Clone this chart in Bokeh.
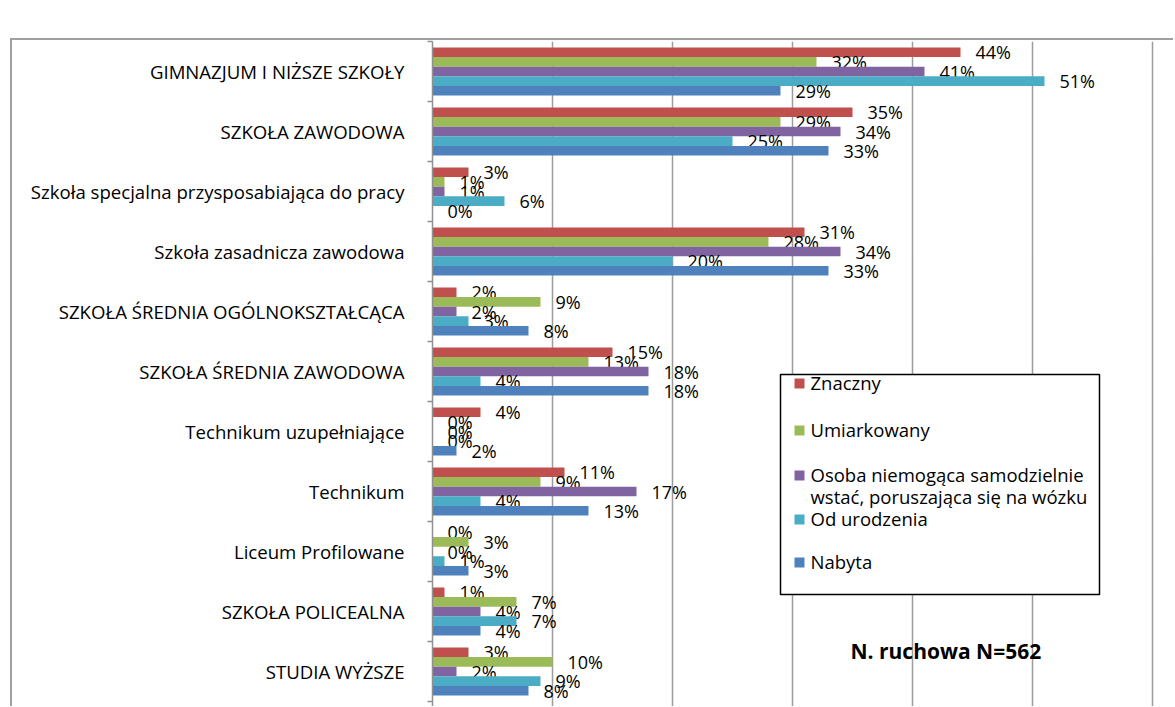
from bokeh.plotting import figure
from bokeh.layouts import column
from bokeh.models import Range1d, FixedTicker, ColumnDataSource
from bokeh.transform import dodge
from bokeh.core.properties import value
from bokeh.embed import file_html
from bokeh.resources import INLINE

# ---------------- data ----------------
categories = [
    "GIMNAZJUM I NIŻSZE SZKOŁY",
    "SZKOŁA ZAWODOWA",
    "Szkoła specjalna przysposabiająca do pracy",
    "Szkoła zasadnicza zawodowa",
    "SZKOŁA ŚREDNIA OGÓLNOKSZTAŁCĄCA",
    "SZKOŁA ŚREDNIA ZAWODOWA",
    "Technikum uzupełniające",
    "Technikum",
    "Liceum Profilowane",
    "SZKOŁA POLICEALNA",
    "STUDIA WYŻSZE",
]
series_names = [
    "Znaczny",
    "Umiarkowany",
    "Osoba niemogąca samodzielnie\nwstać, poruszająca się na wózku",
    "Od urodzenia",
    "Nabyta",
]
znaczny = [44, 35, 3, 31, 2, 15, 4, 11, 0, 1, 3]
umiarkowany = [32, 29, 1, 28, 9, 13, 0, 9, 3, 7, 10]
na_wozku = [41, 34, 1, 34, 2, 18, 0, 17, 0, 4, 2]
od_urodzenia = [51, 25, 6, 20, 3, 4, 0, 4, 1, 7, 9]
nabyta = [29, 33, 0, 33, 8, 18, 2, 13, 3, 4, 8]
x_grid_ticks = [10, 20, 30, 40, 50, 60]
note_text = "N. ruchowa N=562"

series_values = [znaczny, umiarkowany, na_wozku, od_urodzenia, nabyta]
colors = ["#C0504D", "#9BBB59", "#8064A2", "#4BACC6", "#4F81BD"]

# ---------------- geometry ----------------
FX, FY = 12, 40            # page position of the figure canvas
W, H = 1161, 666
LEFT, TOP, RIGHT, BOTTOM = 420, 1, 0, 0
n = len(categories)
frame_w = W - LEFT - RIGHT
frame_h = H - TOP - BOTTOM
x_max = frame_w / 12.0          # 12 px per percent
PX_CAT = 60.0                   # px per category
y_min = n - frame_h / PX_CAT    # small extra space below the last category

FONT = "Open Sans"
FS = "18.6px"


def px_x(page_x):
    return (page_x - FX - LEFT) / 12.0


def px_y(page_y):
    return n - (page_y - FY - TOP) / PX_CAT


p = figure(width=W, height=H, output_backend="svg", toolbar_location=None,
           x_range=Range1d(0, x_max), y_range=Range1d(y_min, n),
           min_border_left=LEFT, min_border_right=RIGHT,
           min_border_top=TOP, min_border_bottom=BOTTOM)
p.outline_line_color = None
p.background_fill_color = "white"
p.border_fill_color = "white"

centers = [n - i - 0.5 for i in range(n)]

bar_h = 0.16
offsets = [0.32, 0.16, 0.0, -0.16, -0.32]
for vals, col, off in zip(series_values, colors, offsets):
    src = ColumnDataSource(dict(y=centers, v=vals, lab=[f"{v}%" for v in vals]))
    p.hbar(y=dodge("y", off, range=p.y_range), right="v", left=0, height=bar_h,
           source=src, fill_color=col, line_color=None)
    p.text(x="v", y=dodge("y", off, range=p.y_range), text="lab", source=src,
           x_offset=15, text_baseline="middle", text_align="left",
           text_font=value(FONT), text_font_size="18px", text_color="#000000")

# grid
p.xaxis.visible = False
p.xgrid.ticker = FixedTicker(ticks=x_grid_ticks)
p.xgrid.grid_line_color = "#9c9c9c"
p.xgrid.grid_line_width = 1.5
p.ygrid.grid_line_color = None

# y axis
yax = p.yaxis[0]
yax.ticker = FixedTicker(ticks=centers, minor_ticks=list(range(n + 1)))
yax.major_label_overrides = {c: cat for c, cat in zip(centers, categories)}
yax.major_tick_in = 0
yax.major_tick_out = 0
yax.minor_tick_in = 0
yax.minor_tick_out = 5
yax.minor_tick_line_color = "#909090"
yax.minor_tick_line_width = 1.5
yax.axis_line_color = "#909090"
yax.axis_line_width = 1.5
yax.major_label_standoff = 23
yax.major_label_text_font = FONT
yax.major_label_text_font_size = FS
yax.major_label_text_color = "#000000"

# legend (drawn manually to reproduce the layout)
p.quad(left=[px_x(780)], right=[px_x(1099)], top=[px_y(374)], bottom=[px_y(594)],
       fill_color="white", line_color="black", line_width=1.5)
row_y = [383, 430, 475, 519, 562]
leg_src = ColumnDataSource(dict(x=[px_x(799)] * 5, y=[px_y(r) for r in row_y],
                                c=colors, name=series_names,
                                tx=[px_x(810)] * 5))
p.scatter(x="x", y="y", marker="square", size=10, fill_color="c", line_color=None,
          source=leg_src)
p.text(x="tx", y="y", text="name", source=leg_src, text_baseline="top",
       y_offset=-14, text_font=value(FONT), text_font_size="18.5px",
       text_color="#000000", text_line_height=0.9)

p.text(x=[px_x(850)], y=[px_y(650)], text=[note_text], text_baseline="middle",
       text_font=value(FONT), text_font_size="21px", text_font_style="bold",
       text_color="#000000")

layout = column(p, margin=(38, 0, 0, 10),
                styles={"border-left": "2px solid #a0a0a0",
                        "border-top": "2px solid #a0a0a0"})

open("out.html", "w").write(file_html(layout, INLINE))
